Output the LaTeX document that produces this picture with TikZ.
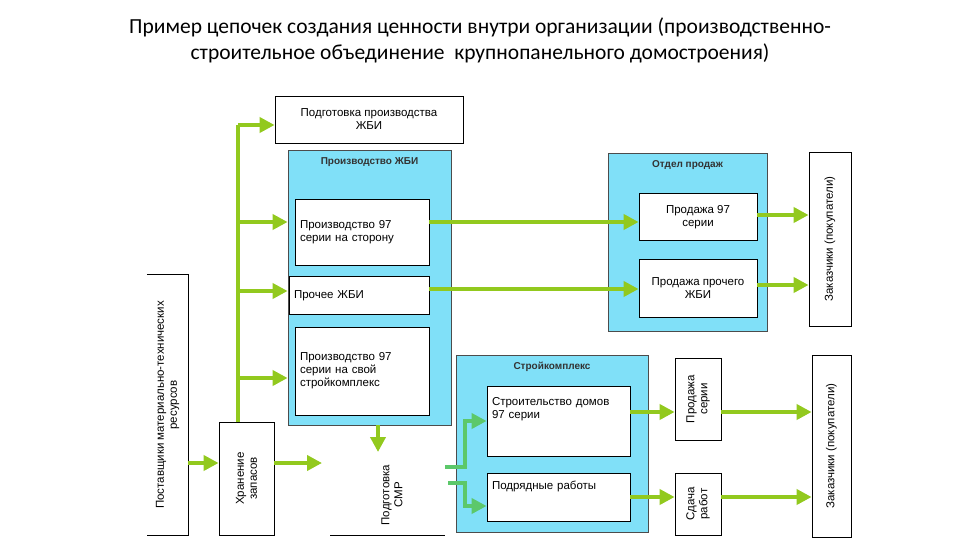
\documentclass[tikz,border=0pt]{standalone}
\usepackage{fontspec}
\setmainfont{Liberation Sans}
\newfontfamily\titlefont{Carlito}
\usetikzlibrary{arrows.meta}
\definecolor{paneBlue}{HTML}{80E0F8}
\definecolor{flowGreen}{HTML}{92C91E}
\definecolor{smrGreen}{HTML}{5CC86A}

\begin{document}
\begin{tikzpicture}[x=1pt, y=-1pt, >={Triangle[length=15pt,width=15pt]}]

  \tikzstyle{box}=[draw=black, fill=white, line width=0.8pt, inner sep=3pt, font=\fontsize{11.5}{13}\selectfont, align=left]
  \tikzstyle{pane}=[draw=black!70, fill=paneBlue, line width=0.8pt]
  \tikzstyle{head}=[font=\fontsize{10}{11}\selectfont\bfseries, text=black!80]
  \tikzstyle{flow}=[draw=flowGreen, line width=4.5pt, ->]
  \tikzstyle{smr}=[draw=smrGreen, line width=4.5pt, ->]

  \useasboundingbox (0,0) rectangle (960,540);

  \node[font=\titlefont\fontsize{21.5}{26}\selectfont, align=center] (title) at (480,40)
    {Пример цепочек создания ценности внутри организации (производственно-\\строительное объединение\ \ крупнопанельного домостроения)};

  % blue panes
  \node[pane, minimum width=163pt, minimum height=275pt] (zbi) at (369.5,287.5) {};
  \node[head, anchor=north] at (zbi.north) [yshift=-4pt] {Производство ЖБИ};
  \node[pane, minimum width=159pt, minimum height=178pt] (sales) at (687.5,242) {};
  \node[head, anchor=north] at (sales.north) [yshift=-4pt] {Отдел продаж};
  \node[pane, minimum width=192pt, minimum height=177pt] (build) at (552,443.5) {};
  \node[head, anchor=north] at (build.north) [yshift=-4pt] {Стройкомплекс};

  % boxes
  \node[box, align=center, minimum width=188pt, minimum height=47pt] (prep) at (369,119.5) {Подготовка производства\\ЖБИ};
  \node[box, minimum width=134pt, minimum height=66pt, text width=124pt] (side) at (362,232) {Производство 97\\серии на сторону};
  \node[box, minimum width=140pt, minimum height=38pt, text width=130pt, anchor=north] (other) at (359,276) {Прочее ЖБИ};
  \node[box, minimum width=134pt, minimum height=88pt, text width=124pt] (own) at (362,371) {Производство 97\\серии на свой\\стройкомплекс};
  \node[box, align=center, anchor=north, minimum width=118pt, minimum height=47pt] (sell97) at (698,193) {Продажа 97\\серии};
  \node[box, align=center, anchor=north, minimum width=118pt, minimum height=58pt] (sellother) at (698,259) {Продажа прочего\\ЖБИ};
  \node[box, anchor=north, minimum width=143pt, minimum height=70pt, text width=133pt, text depth=40pt] (houses) at (558.5,386) {Строительство домов\\97 серии};
  \node[box, anchor=north, minimum width=143pt, minimum height=48pt, text width=133pt, text depth=25pt] (contract) at (558.5,473) {Подрядные работы};

  % rotated boxes
  \node[box, rotate=90, align=center, minimum width=113pt, minimum height=55pt] (store) at (246.5,478.5) {Хранение\\запасов};
  \node[box, rotate=90, align=center, minimum width=82pt, minimum height=46pt] (sellser) at (698,399) {Продажа\\серии};
  \node[box, rotate=90, align=center, minimum width=62pt, minimum height=46pt] (handover) at (698,504) {Сдача\\работ};
  \node[box, rotate=90, minimum width=174pt, minimum height=42pt] (clients1) at (830,239) {Заказчики (покупатели)};
  \node[box, rotate=90, minimum width=182pt, minimum height=39pt] (clients2) at (831.5,446) {Заказчики (покупатели)};
  \node[rotate=90, align=center, font=\fontsize{11.5}{13}\selectfont, minimum width=260pt, minimum height=41pt] (suppliers) at (167.5,405) {Поставщики материально-технических\\ресурсов};
  \draw[line width=0.8pt] (suppliers.north east) -- (suppliers.south east) -- (suppliers.south west) -- (suppliers.north west);
  \node[rotate=90, align=center, font=\fontsize{11.5}{13}\selectfont] (smrprep) at (392,495) {Подготовка\\СМР};
  \coordinate (smrline) at (330,535);
  \draw[line width=0.8pt] (smrline) -- ++(115,0);

  % supply trunk
  \coordinate (trunk) at (238,422);
  \coordinate (t1) at (238,125);
  \coordinate (t2) at (238,222);
  \coordinate (t3) at (238,291);
  \coordinate (t4) at (238,378);
  \draw[draw=flowGreen, line width=4.5pt] (trunk) -- (t1);
  \draw[flow] (t1) -- (t1 -| prep.west);
  \draw[flow] (t2) -- (t2 -| zbi.west);
  \draw[flow] (t3) -- (t3 -| zbi.west);
  \draw[flow] (t4) -- (t4 -| zbi.west);

  \coordinate (s1) at (188,463);
  \coordinate (s2) at (322,463);
  \draw[flow] (s1) -- (s1 -| store.north);
  \draw[flow] (store.south |- s2) -- (s2);
  \draw[flow] (own.south -| 378,0) ++(0,10) -- (378,452);

  % production to sales
  \draw[flow] (side.east |- 0,222) -- (sell97.west |- 0,222);
  \draw[flow] (other.east |- 0,289) -- (sellother.west |- 0,289);
  \draw[flow] (sell97.east |- 0,215) -- (clients1.north |- 0,215);
  \draw[flow] (sellother.east |- 0,285) -- (clients1.north |- 0,285);

  % construction
  \coordinate (m1) at (445,467);
  \coordinate (m2) at (448,483);
  \draw[smr] (m1) -| (465,421) -- (houses.west |- 0,421);
  \draw[smr] (m2) -| (465,506) -- (contract.west |- 0,506);
  \draw[flow] (houses.east |- 0,412) -- (sellser.north |- 0,412);
  \draw[flow] (sellser.south |- 0,412) -- (clients2.north |- 0,412);
  \draw[flow] (contract.east |- 0,497) -- (handover.north |- 0,497);
  \draw[flow] (handover.south |- 0,497) -- (clients2.north |- 0,497);

\end{tikzpicture}
\end{document}
